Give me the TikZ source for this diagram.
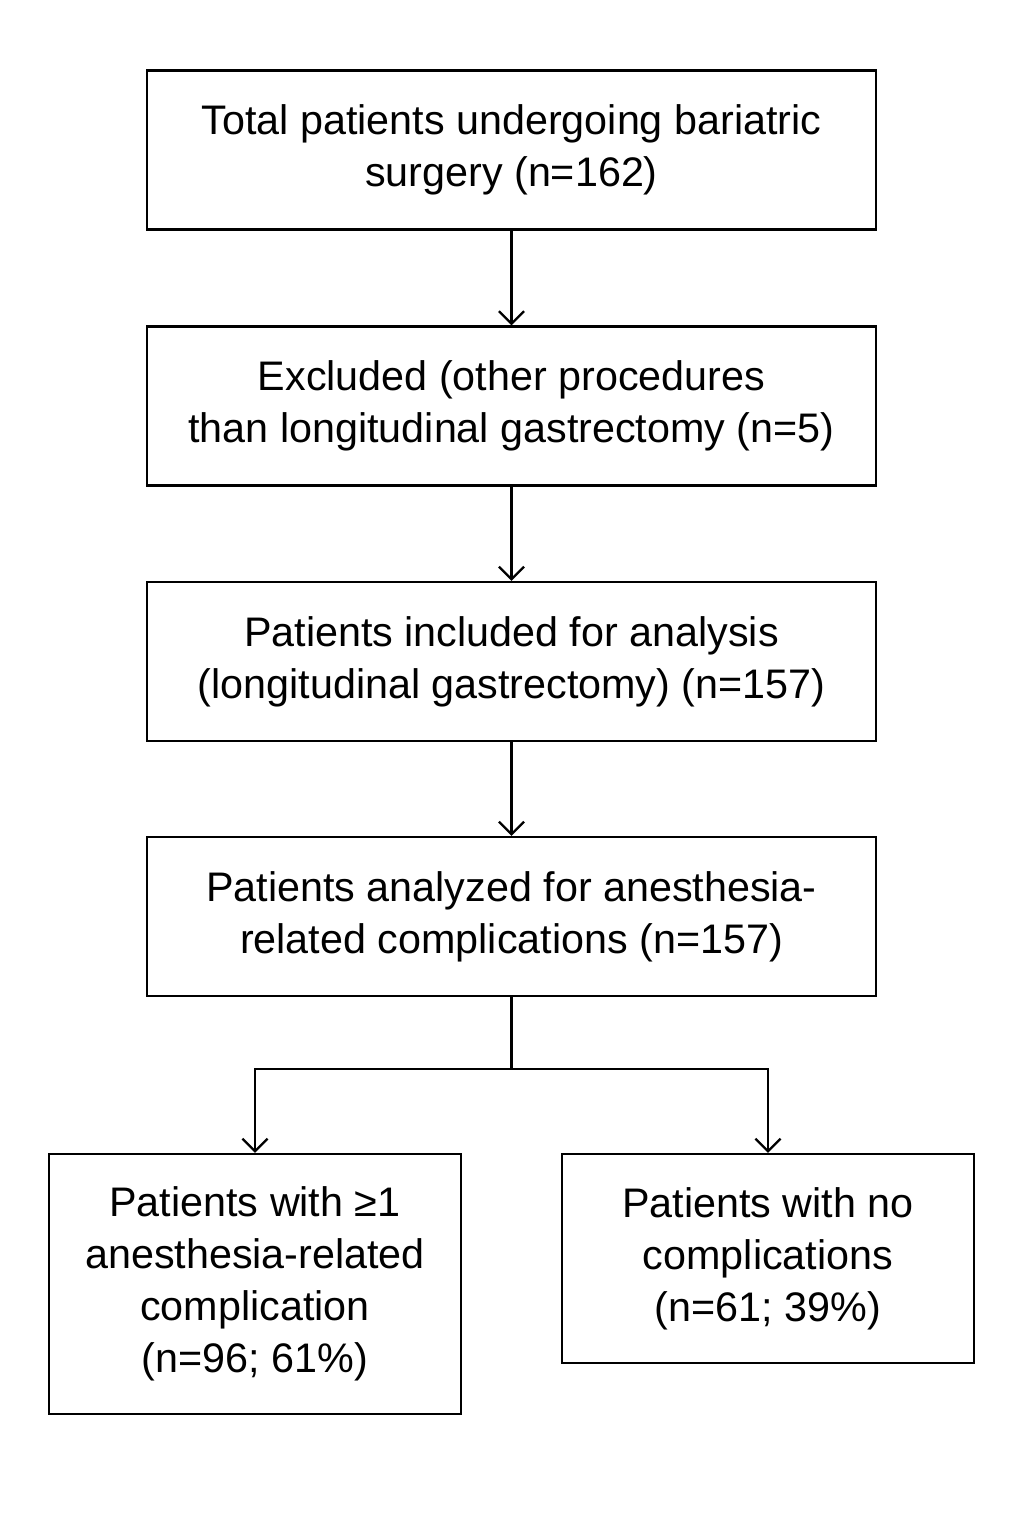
\documentclass[tikz,border=0pt]{standalone}
\usepackage{fontspec}
\setmainfont{Liberation Sans}
\usetikzlibrary{arrows.meta}
\begin{document}
\begin{tikzpicture}[x=0.02cm, y=-0.02cm,
        box/.style={draw, line width=1.4pt, align=center, inner sep=0pt,
            minimum width=14.58cm, minimum height=3.18cm,
            font=\fontsize{23.5}{29.5}\selectfont},
        smallbox/.style={box, minimum width=8.24cm},
        arrow/.style={line width=1.3pt, -{Straight Barb[length=0.25cm, width=0.5cm]}}]
        % поле рисунка
        \useasboundingbox ( 0, 0 ) rectangle ( 1024, 1536 );

        % блоки
        \node [box] (total) at ( 511.5, 150 ) {Total patients undergoing bariatric\\surgery (n=162)};
        \node [box] (excluded) at ( 511.5, 406 ) {Excluded (other procedures\\than longitudinal gastrectomy (n=5)};
        \node [box] (included) at ( 511.5, 661.5 ) {Patients included for analysis\\(longitudinal gastrectomy) (n=157)};
        \node [box] (analyzed) at ( 511.5, 916.5 ) {Patients analyzed for anesthesia-\\related complications (n=157)};
        \node [smallbox, minimum height=5.2cm] (withcomp) at ( 255, 1284 ) {Patients with ≥1\\anesthesia-related\\complication\\(n=96; 61\%)};
        \node [smallbox, minimum height=4.18cm] (nocomp) at ( 768, 1258.5 ) {Patients with no\\complications\\(n=61; 39\%)};

        % стрелки
        \draw [arrow] (total) -- (excluded);
        \draw [arrow] (excluded) -- (included);
        \draw [arrow] (included) -- (analyzed);

        % разветвление
        \draw [line width=1.3pt] (analyzed.south) -- ++( 0, 72 ) coordinate (split);
        \draw [arrow] (split) -| (withcomp.north);
        \draw [arrow] (split) -| (nocomp.north);
    \end{tikzpicture}
\end{document}
